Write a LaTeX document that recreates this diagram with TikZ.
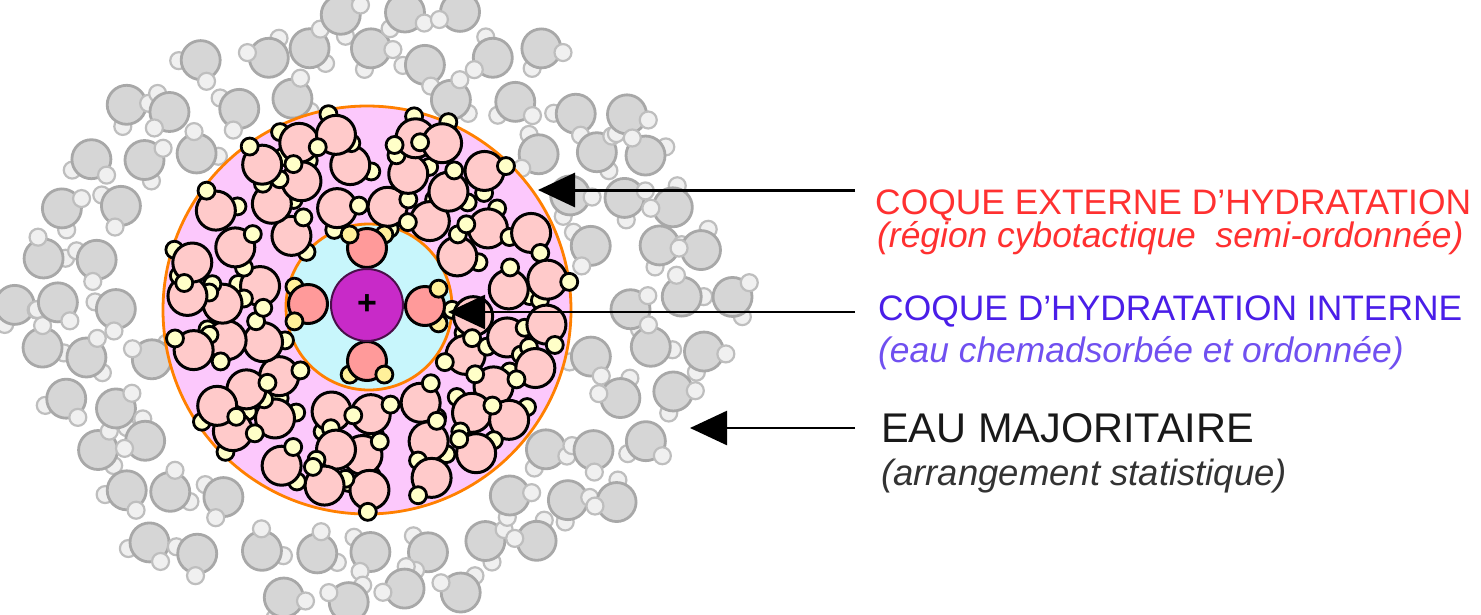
\documentclass[tikz,border=0pt]{standalone}
\usepackage{fontspec}
\setmainfont{Liberation Sans}
\usetikzlibrary{arrows.meta}

\definecolor{bulkO}{HTML}{D6D6D6}
\definecolor{bulkH}{HTML}{F0F0F0}
\definecolor{bulkline}{HTML}{A8A8A8}
\definecolor{shellpink}{HTML}{FCC8FC}
\definecolor{shellO}{HTML}{FFCACA}
\definecolor{shellH}{HTML}{FFFFC8}
\definecolor{innercyan}{HTML}{C8F6FC}
\definecolor{coreO}{HTML}{FF9A9A}
\definecolor{coreH}{HTML}{FFF09A}
\definecolor{ionpurple}{HTML}{C82AC8}
\definecolor{ionline}{HTML}{4A0E4A}
\definecolor{rimorange}{HTML}{FF8000}
\definecolor{extred}{HTML}{FF3030}
\definecolor{intblue}{HTML}{4A1EE8}
\definecolor{intnote}{HTML}{7050F0}

\tikzset{
  greyO/.style={draw=bulkline, fill=bulkO, line width=2.8pt},
  greyH/.style={draw=bulkline!75, fill=bulkH, line width=2.2pt},
  pinkO/.style={draw=black, fill=shellO, line width=3pt},
  pinkH/.style={draw=black, fill=shellH, line width=2.8pt},
  coreO/.style={draw=black, fill=coreO, line width=3pt},
  coreH/.style={draw=black, fill=coreH, line width=2.8pt},
  disk/.style={circle, draw=rimorange, line width=2.8pt, inner sep=0pt},
  label title/.style={anchor=base west, inner sep=0pt, font=\fontsize{35.4}{40}\selectfont},
  label note/.style={anchor=base west, inner sep=0pt, font=\fontsize{35.4}{40}\selectfont\itshape},
  pointer/.style={line width=3pt, -{Triangle[length=37pt,width=34pt]}},
}

% one water molecule: style prefix, x, y, angle
\newcommand{\water}[4]{%
  \draw[#1H] (#2,#3) ++(#4+52:22) circle (8.5);
  \draw[#1O] (#2,#3) circle (19.5);
  \draw[#1H] (#2,#3) ++(#4-52:22) circle (8.5);
}

\begin{document}
\begin{tikzpicture}[x=1pt,y=-1pt]
\useasboundingbox (0,0) rectangle (1481,614);

% bulk water
\pgfmathsetseed{31}
\foreach \i in {0,...,13}{
  \foreach \j in {0,...,12}{
    \pgfmathsetmacro{\mx}{8+\i*56+mod(\j,2)*28+rand*9}
    \pgfmathsetmacro{\my}{8+\j*49+rand*9}
    \pgfmathsetmacro{\ma}{rnd*360}
    \pgfmathparse{and(veclen(\mx-367,\my-307)>220, ((\mx-370)/365)^2+((\my-307)/305)^2<1)}
    \ifdim\pgfmathresult pt>0.5pt \water{grey}{\mx}{\my}{\ma}\fi
  }
}

% outer and inner shells
\node[disk, fill=shellpink, minimum size=408pt] (outer) at (367,310) {};
\node[disk, fill=innercyan, minimum size=166pt] (inner) at (369,307) {};

\pgfmathsetseed{12}
\foreach \r/\n/\s in {107/13/0,145/18/7,180/22/3}{
  \foreach \k in {1,...,\n}{
    \pgfmathsetmacro{\mt}{\s+\k*360/\n+rand*5}
    \pgfmathsetmacro{\mr}{\r+rand*3}
    \pgfmathsetmacro{\mx}{367+\mr*cos(\mt)}
    \pgfmathsetmacro{\my}{310+\mr*sin(\mt)}
    \pgfmathsetmacro{\ma}{rnd*360}
    \water{pink}{\mx}{\my}{\ma}
  }
}

% first hydration layer and ion
\water{core}{367}{248}{-90}
\water{core}{308}{304}{180}
\water{core}{425}{306}{0}
\water{core}{367}{361}{90}
\node[circle, draw=ionline, fill=ionpurple, line width=2pt, minimum size=72pt, inner sep=0pt,
      font=\fontsize{34}{34}\selectfont\bfseries] (ion) at (367,305) {+};

% labels
\node[label title, text=extred] (exttitle) at (875,214) {COQUE EXTERNE D'HYDRATATION};
\node[label note, text=extred] (extnote) at (877,247) {(région cybotactique\ \ semi-ordonnée)};
\node[label title, text=intblue] (inttitle) at (878,320) {COQUE D'HYDRATATION INTERNE};
\node[label note, text=intnote] (intnote) at (878,362) {(eau chemadsorbée et ordonnée)};
\node[label title, font=\fontsize{41.5}{45}\selectfont, text=black!90] (bulktitle) at (881,442) {EAU MAJORITAIRE};
\node[label note, font=\fontsize{36.5}{45}\selectfont\itshape, text=black!80] (bulknote) at (881,485) {(arrangement statistique)};

% pointers
\coordinate (extfrom) at (855,190);
\coordinate (extto) at (538,190);
\coordinate (intfrom) at (855,312);
\coordinate (intto) at (448,312);
\coordinate (bulkfrom) at (855,428);
\coordinate (bulkto) at (690,428);
\draw[pointer] (extfrom) -- (extto);
\draw[pointer, line width=2.5pt] (intfrom) -- (intto);
\draw[pointer, line width=2.5pt] (bulkfrom) -- (bulkto);
\end{tikzpicture}
\end{document}
